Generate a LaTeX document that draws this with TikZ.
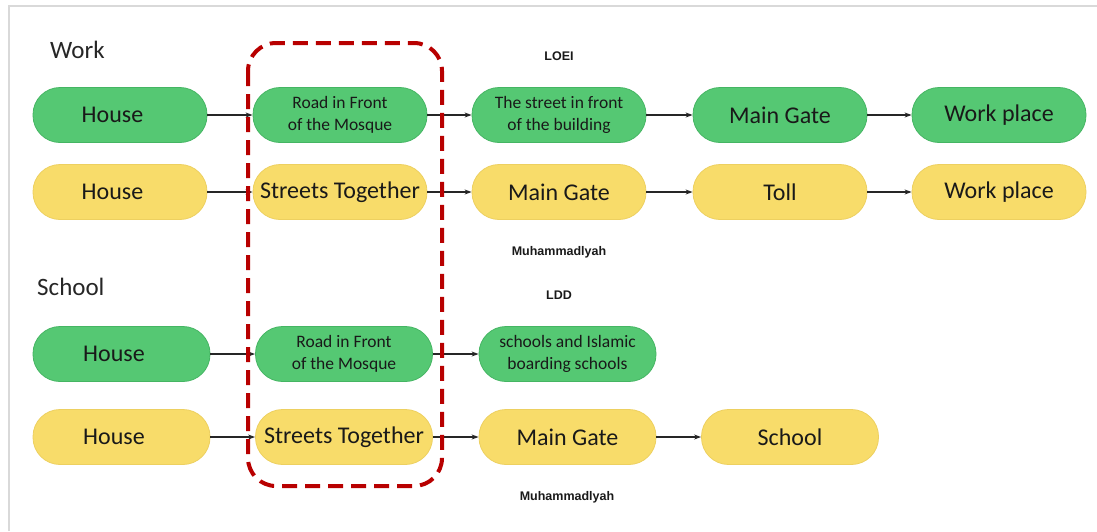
\documentclass[tikz,border=0pt]{standalone}
\usepackage{fontspec}
\setmainfont{Carlito}
\newfontfamily\lblfont{Liberation Sans}
\usetikzlibrary{arrows.meta}
\definecolor{gfill}{HTML}{55C873}
\definecolor{gdraw}{HTML}{45B563}
\definecolor{yfill}{HTML}{F8DC6A}
\definecolor{ydraw}{HTML}{EDD060}
\definecolor{dred}{HTML}{B80000}
\definecolor{framec}{HTML}{D9D9D9}
\tikzset{
  pill/.style={rectangle, rounded corners=27pt, minimum height=55pt, inner sep=0pt, align=center, text=black!90, line width=0.8pt},
  gbox/.style={pill, fill=gfill, draw=gdraw},
  ybox/.style={pill, fill=yfill, draw=ydraw},
  w1/.style={minimum width=174pt},
  w2/.style={minimum width=177pt},
  big/.style={font=\fontsize{24}{28}\selectfont},
  small/.style={font=\fontsize{17.5}{22}\selectfont},
  conn/.style={-{Stealth[length=7pt,width=5pt]}, line width=1.2pt, black!85},
  heading/.style={font=\fontsize{25}{30}\selectfont, text=black!85, anchor=base west, inner sep=0pt},
  tag/.style={font=\lblfont\bfseries\fontsize{12.5}{15}\selectfont, text=black!90, inner sep=0pt},
}
\begin{document}
\begin{tikzpicture}[x=1pt, y=-1pt]
\useasboundingbox (0,0) rectangle (1097,531);
\draw[framec, line width=1.5pt] (9,531) -- (9,6) -- (1097,6);

\node[heading] (hwork) at (50,58) {Work};
\node[heading] (hschool) at (37,295) {School};

\node[tag] (t1) at (559,56) {LOEI};
\node[tag] (t2) at (559,252) {Muhammadlyah};
\node[tag] (t3) at (559,295) {LDD};
\node[tag] (t4) at (567,497) {Muhammadlyah};

% row 1
\node[gbox,w1,big] (a1) at (120,115) {House\hspace{15pt}};
\node[gbox,w1,small] (a2) at (340,115) {Road in Front\\of the Mosque};
\node[gbox,w1,small] (a3) at (559,115) {The street in front\\of the building};
\node[gbox,w1,big] (a4) at (780,115) {Main Gate};
\node[gbox,w1,big] (a5) at (999,115) {Work place};
% row 2
\node[ybox,w1,big] (b1) at (120,192) {House\hspace{15pt}};
\node[ybox,w1,big] (b2) at (340,192) {Streets Together};
\node[ybox,w1,big] (b3) at (559,192) {Main Gate};
\node[ybox,w1,big] (b4) at (780,192) {Toll};
\node[ybox,w1,big] (b5) at (999,192) {Work place};
% row 3
\node[gbox,w2,big] (c1) at (121.5,354) {House\hspace{15pt}};
\node[gbox,w2,small] (c2) at (344,354) {Road in Front\\of the Mosque};
\node[gbox,w2,small] (c3) at (567.5,354) {schools and Islamic\\boarding schools};
% row 4
\node[ybox,w2,big] (d1) at (121.5,437) {House\hspace{15pt}};
\node[ybox,w2,big] (d2) at (344,437) {Streets Together};
\node[ybox,w2,big] (d3) at (567.5,437) {Main Gate};
\node[ybox,w2,big] (d4) at (790,437) {School};

\draw[conn] (a1) -- (a2);
\draw[conn] (a2) -- (a3);
\draw[conn] (a3) -- (a4);
\draw[conn] (a4) -- (a5);
\draw[conn] (b1) -- (b2);
\draw[conn] (b2) -- (b3);
\draw[conn] (b3) -- (b4);
\draw[conn] (b4) -- (b5);
\draw[conn] (c1) -- (c2);
\draw[conn] (c2) -- (c3);
\draw[conn] (d1) -- (d2);
\draw[conn] (d2) -- (d3);
\draw[conn] (d3) -- (d4);

\coordinate (bx1) at (248,43);
\coordinate (bx2) at (442,486);
\draw[dred, line width=4pt, dash pattern=on 15pt off 8pt, rounded corners=28pt] (bx1) rectangle (bx2);
\end{tikzpicture}
\end{document}
